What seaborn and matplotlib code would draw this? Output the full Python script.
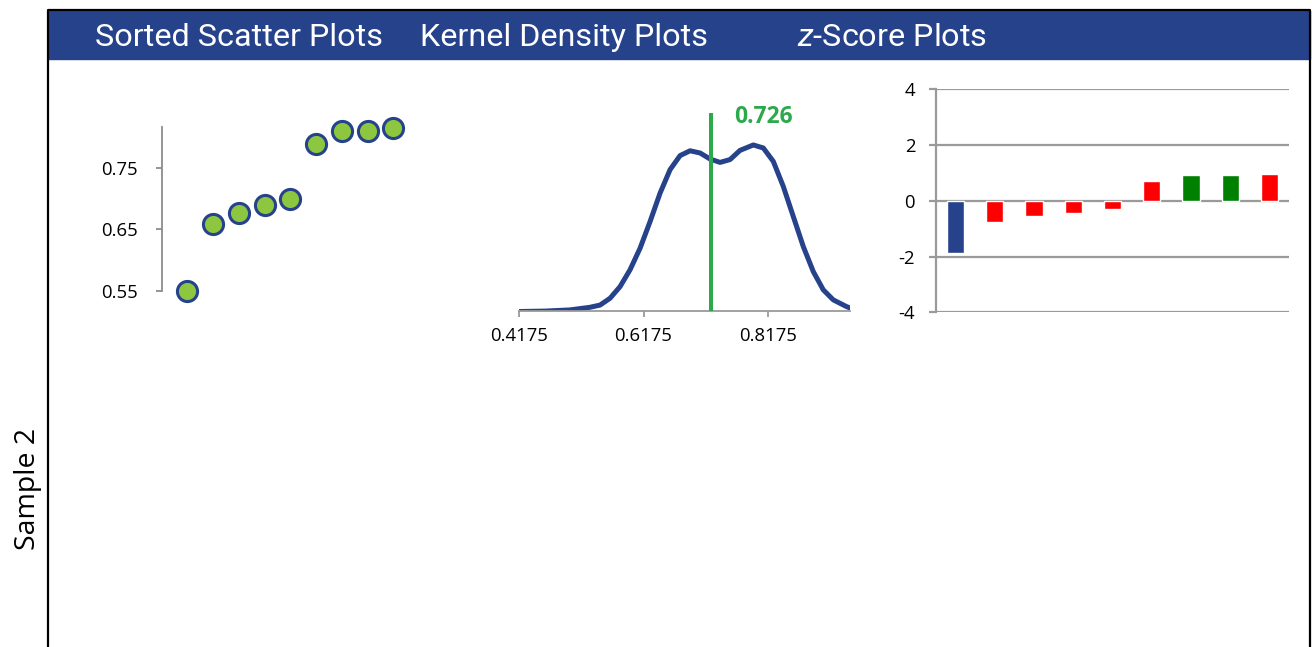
import numpy as np
import pandas as pd
import matplotlib
matplotlib.use("Agg")
import matplotlib.pyplot as plt
import seaborn as sns

# sorted sample values (scatter panel)
sample_idx = [1, 2, 3, 4, 5, 6, 7, 8, 9]
sample_vals = [0.550, 0.659, 0.677, 0.689, 0.700, 0.790, 0.810, 0.810, 0.816]
scatter_ticks = [0.55, 0.65, 0.75]

# kernel density curve
kde_x = [0.4186, 0.4589, 0.4991, 0.5313, 0.5475, 0.5636, 0.5797, 0.5958, 0.6120,
         0.6281, 0.6442, 0.6603, 0.6764, 0.6925, 0.7086, 0.7246, 0.7407, 0.7568,
         0.7729, 0.7943, 0.8104, 0.8265, 0.8426, 0.8587, 0.8748, 0.8909, 0.9070,
         0.9231, 0.9447, 0.9500]
kde_y = [0.0, 0.01, 0.04, 0.105, 0.16, 0.33, 0.62, 1.04, 1.58,
         2.245, 2.955, 3.54, 3.89, 4.01, 3.955, 3.805, 3.72, 3.79,
         4.02, 4.155, 4.08, 3.745, 3.12, 2.37, 1.62, 0.995, 0.54,
         0.29, 0.12, 0.09]
kde_ticks = [0.4175, 0.6175, 0.8175]
mean_val = 0.726

# z-scores
z_cats = ["1", "2", "3", "4", "5", "6", "7", "8", "9"]
z_vals = [-1.89, -0.75, -0.54, -0.42, -0.30, 0.70, 0.91, 0.91, 0.96]
z_colors = ["#26428B", "#FF0000", "#FF0000", "#FF0000", "#FF0000",
            "#FF0000", "#008000", "#008000", "#FF0000"]
z_ticks = [-4, -2, 0, 2, 4]

headers = ["Sorted Scatter Plots", "Kernel Density Plots", "$z$-Score Plots"]

navy = "#26428B"
grey = "#9A9A9A"

sns.set_theme(style="white")
plt.rcParams["font.family"] = ["Open Sans", "DejaVu Sans"]
plt.rcParams["text.color"] = "black"
plt.rcParams["xtick.labelcolor"] = "black"
plt.rcParams["ytick.labelcolor"] = "black"
plt.rcParams["mathtext.fontset"] = "custom"
plt.rcParams["mathtext.rm"] = "Roboto"
plt.rcParams["mathtext.it"] = "Roboto:italic"

W, H = 1312, 647
fig = plt.figure(figsize=(W / 100, H / 100), dpi=100)


def box(x0, y0, x1, y1):
    # pixel box (top-left origin) -> figure fraction rect
    return [x0 / W, 1 - y1 / H, (x1 - x0) / W, (y1 - y0) / H]


# frame + header band
bg = fig.add_axes([0, 0, 1, 1])
bg.set_xlim(0, W)
bg.set_ylim(H, 0)
bg.axis("off")
bg.add_patch(plt.Rectangle((48, 11), 1262, 48, color=navy, zorder=1))
bg.plot([47.5, 47.5, 1310, 1310], [H, 10, 10, H], color="black", lw=1.6, zorder=2)
for label, x in zip(headers, [95, 420, 797]):
    bg.text(x, 46, label, color="white", fontsize=23.3, family="Roboto",
            ha="left", va="baseline")
bg.text(28, 489, "Sample 2", rotation=90, fontsize=20.5, family="Open Sans",
        ha="center", va="center", color="black")

# sorted scatter
ax1 = fig.add_axes(box(161.7, 126.7, 419, 290.7))
sns.scatterplot(x=sample_idx, y=sample_vals, ax=ax1, s=210, color="#8DC63F",
                edgecolor=navy, linewidth=2.2, clip_on=False, zorder=3)
ax1.set_xlim(0, 10)
ax1.set_ylim(0.55, 0.8175)
ax1.set_yticks(scatter_ticks)
ax1.set_yticklabels([f"{v:.2f}" for v in scatter_ticks])
ax1.set_xticks([])
for s in ["top", "right", "bottom"]:
    ax1.spines[s].set_visible(False)
ax1.spines["left"].set_color("#8C8C8C")
ax1.spines["left"].set_linewidth(1.3)
ax1.tick_params(axis="y", left=True, length=4, width=1.3, color="#8C8C8C",
                labelsize=13.3, pad=13)

# kernel density
ax2 = fig.add_axes(box(519.3, 112.7, 850, 311.5))
sns.lineplot(x=kde_x, y=kde_y, ax=ax2, color=navy, lw=3.6, sort=False)
ax2.axvline(mean_val, color="#2DA84B", lw=2.9, zorder=4)
ax2.text(mean_val + 0.038, 4.86, f"{mean_val:.3f}", color="#2DA84B",
         fontsize=16.5, fontweight="bold", ha="left", va="center")
ax2.set_xlim(0.4175, 0.95)
ax2.set_ylim(0, 4.96)
ax2.set_xticks(kde_ticks)
ax2.set_xticklabels([f"{v:.4f}" for v in kde_ticks])
ax2.set_yticks([])
ax2.set_xlabel("")
ax2.set_ylabel("")
for s in ["top", "right", "left"]:
    ax2.spines[s].set_visible(False)
ax2.spines["bottom"].set_color(grey)
ax2.spines["bottom"].set_linewidth(1.3)
ax2.tick_params(axis="x", bottom=True, length=4, width=1.3, color=grey,
                labelsize=13.3, pad=7)

# z-score bars
ax3 = fig.add_axes(box(936, 89.3, 1289, 312.3))
zdf = pd.DataFrame({"obs": z_cats, "z": z_vals})
sns.barplot(data=zdf, x="obs", y="z", hue="obs", palette=z_colors, legend=False,
            width=0.44, ax=ax3, saturation=1, zorder=3)
ax3.set_ylim(-4, 4)
ax3.set_xlim(-0.5, len(z_cats) - 0.5)
ax3.set_yticks(z_ticks)
ax3.set_yticklabels([str(t) for t in z_ticks])
ax3.set_xticks([])
ax3.set_xlabel("")
ax3.set_ylabel("")
ax3.yaxis.grid(True, color=grey, lw=1.6)
ax3.set_axisbelow(True)
for s in ["top", "right", "bottom"]:
    ax3.spines[s].set_visible(False)
ax3.spines["left"].set_color(grey)
ax3.spines["left"].set_linewidth(1.6)
ax3.tick_params(axis="y", left=True, length=5, width=1.6, color=grey,
                labelsize=13.3, pad=10)

fig.savefig("out.png", dpi=100)
